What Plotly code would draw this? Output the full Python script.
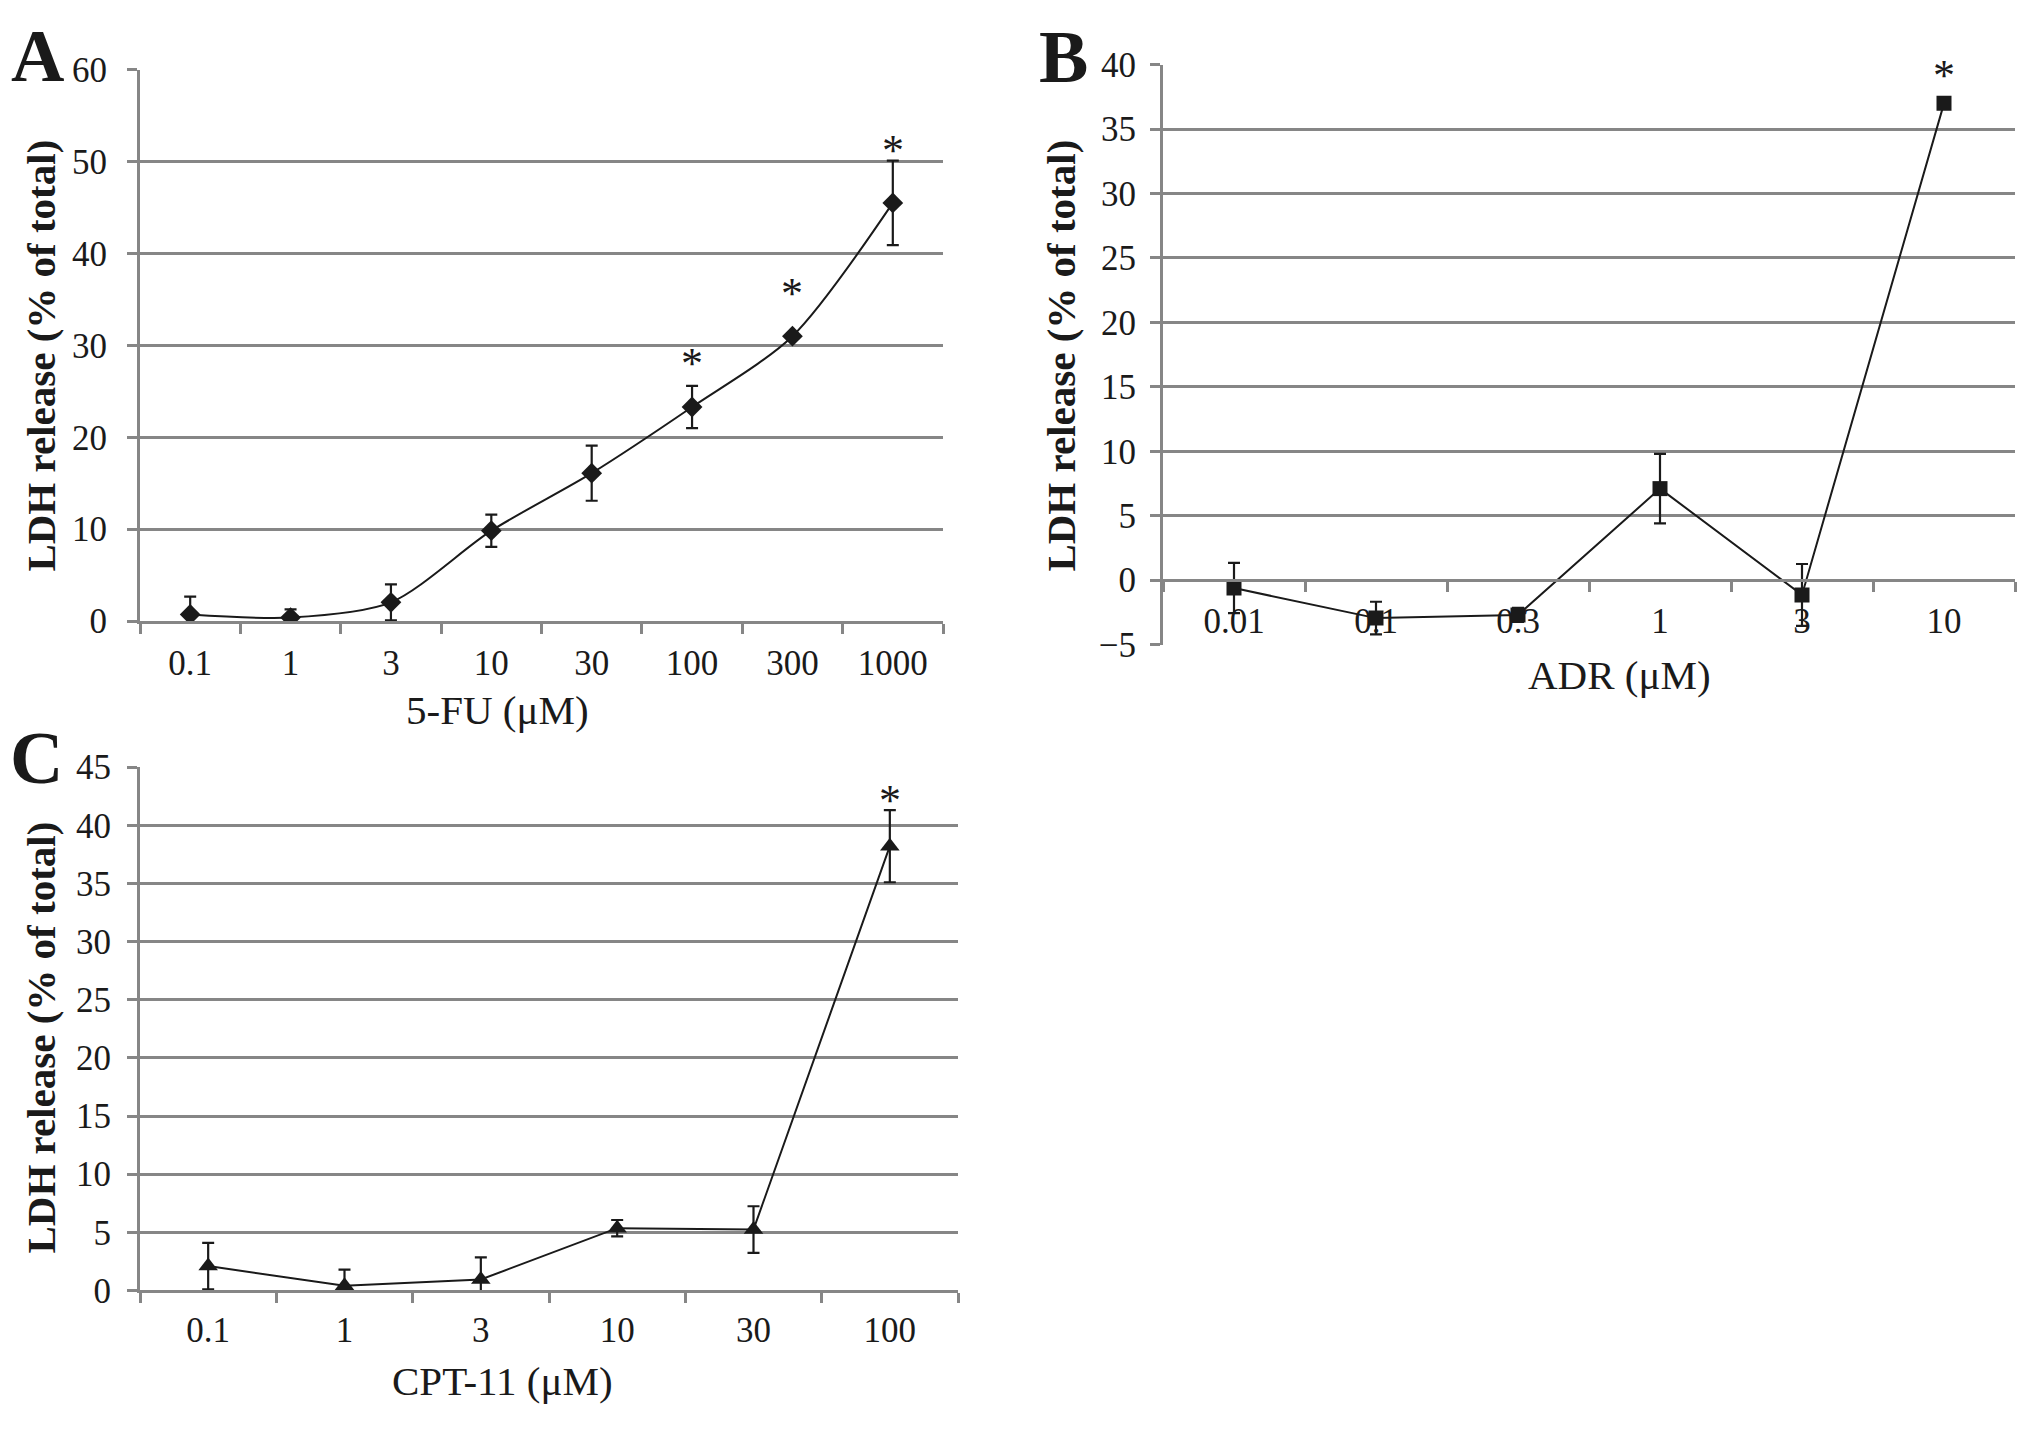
import plotly.graph_objects as go

W, H = 2031, 1435

# ---------------- data ----------------
fu_conc = ["0.1", "1", "3", "10", "30", "100", "300", "1000"]
fu_mean = [0.73, 0.39, 2.05, 9.84, 16.1, 23.3, 31.0, 45.5]
fu_err = [1.95, 0.9, 1.95, 1.75, 3.0, 2.3, 0.3, 4.6]
fu_sig = ["100", "300", "1000"]

adr_conc = ["0.01", "0.1", "0.3", "1", "3", "10"]
adr_mean = [-0.62, -2.95, -2.7, 7.1, -1.15, 37.0]
adr_err = [1.95, 1.27, 0.55, 2.7, 2.4, 0.3]
adr_sig = ["10"]

cpt_conc = ["0.1", "1", "3", "10", "30", "100"]
cpt_mean = [2.1, 0.4, 0.94, 5.36, 5.24, 38.2]
cpt_err = [2.0, 1.4, 1.9, 0.7, 2.0, 3.1]
cpt_sig = ["100"]

# ---------------- style ----------------
FONT = "Liberation Serif"
GRID = "#868686"
INK = "#1a1a1a"


def px(x):
    return x / W


def py(y):
    return 1 - y / H


fig = go.Figure()


def add_series(xs, ys, errs, xa, ya, symbol, msize, shape):
    fig.add_trace(go.Scatter(
        x=xs, y=ys, xaxis=xa, yaxis=ya, mode="lines+markers",
        line=dict(color=INK, width=2, shape=shape, smoothing=0.8),
        marker=dict(symbol=symbol, size=msize, color=INK),
        error_y=dict(type="data", array=errs, visible=True, color=INK,
                     thickness=2.2, width=6),
        showlegend=False, hoverinfo="x+y",
    ))


add_series(fu_conc, fu_mean, fu_err, "x", "y", "diamond", 16, "spline")
add_series(adr_conc, adr_mean, adr_err, "x2", "y2", "square", 15, "linear")
add_series(cpt_conc, cpt_mean, cpt_err, "x3", "y3", "triangle-up", 17, "linear")

tickfont = dict(family=FONT, size=35, color=INK)


def xaxis_cfg(dom, n, standoff, **kw):
    d = dict(domain=dom, type="category", tickson="boundaries",
             ticks="outside", ticklen=10, tickwidth=2.5, tickcolor=GRID,
             showline=True, linecolor=GRID, linewidth=3, showgrid=False,
             zeroline=False, range=[-0.5, n - 0.5], tickfont=tickfont,
             ticklabelstandoff=standoff, fixedrange=True)
    d.update(kw)
    return d


def yaxis_cfg(dom, rng, dtick, anchor, standoff):
    return dict(domain=dom, range=rng, dtick=dtick, tick0=0, anchor=anchor,
                showgrid=True, gridcolor=GRID, gridwidth=3,
                showline=True, linecolor=GRID, linewidth=3,
                ticks="outside", ticklen=10, tickwidth=2.5, tickcolor=GRID,
                zeroline=False, tickfont=tickfont,
                ticklabelstandoff=standoff, fixedrange=True)


# panel plot-area edges in pixels (left, right, bottom, top)
A_box = (140, 943, 619, 52)
B_box = (1163, 2015, 643, 47)
C_box = (140, 958, 1307, 769)
A_rng, B_rng, C_rng = [0, 60], [-5, 40], [0, 45]


def dom(box):
    l, r, b, t = box
    return [px(l), px(r)], [py(b), py(t)]


A_x, A_y = dom(A_box)
B_x, B_y = dom(B_box)
C_x, C_y = dom(C_box)
B_zero = B_y[0] + (0 - B_rng[0]) / (B_rng[1] - B_rng[0]) * (B_y[1] - B_y[0])

fig.update_layout(
    width=W, height=H, margin=dict(l=0, r=0, t=0, b=0),
    paper_bgcolor="white", plot_bgcolor="white",
    xaxis=xaxis_cfg(A_x, len(fu_conc), 9, anchor="y"),
    yaxis=yaxis_cfg(A_y, A_rng, 10, "x", 13),
    xaxis2=xaxis_cfg(B_x, len(adr_conc), 9, anchor="free", position=B_zero),
    yaxis2=yaxis_cfg(B_y, B_rng, 5, "x2", 7),
    xaxis3=xaxis_cfg(C_x, len(cpt_conc), 7, anchor="y3"),
    yaxis3=yaxis_cfg(C_y, C_rng, 5, "x3", 9),
)

ann = []


def text(x, y, s, size, bold=False, angle=0):
    ann.append(dict(
        x=px(x), y=py(y), xref="paper", yref="paper", showarrow=False,
        text=f"<b>{s}</b>" if bold else s, textangle=angle,
        xanchor="center", yanchor="middle",
        font=dict(family=FONT, size=size, color=INK)))


# panel letters
text(37, 38, "A", 74, bold=True)
text(1063, 39, "B", 74, bold=True)
text(36, 760, "C", 74, bold=True)

# axis titles
text(497, 710, "5-FU (μM)", 41)
text(1619, 674, "ADR (μM)", 41)
text(502, 1400, "CPT-11 (μM)", 41)
ytitle = "LDH release (% of total)"
text(41, 346, ytitle, 41, bold=True, angle=-90)
text(1061, 346, ytitle, 41, bold=True, angle=-90)
text(41, 1047, ytitle, 41, bold=True, angle=-90)


# significance asterisks: above the marker, and clear of the error bar
def stars(conc, mean, err, sig, box, rng, xr, yr, marker_gap, err_gap=16):
    ppu = (box[2] - box[3]) / (rng[1] - rng[0])  # pixels per data unit
    for i, (c, m, e) in enumerate(zip(conc, mean, err)):
        if c in sig:
            shift = max(marker_gap, e * ppu + err_gap) - 7
            ann.append(dict(x=i, y=m, xref=xr, yref=yr, text="*",
                            showarrow=False, yshift=shift,
                            xanchor="center", yanchor="middle",
                            font=dict(family=FONT, size=44, color=INK)))


stars(fu_conc, fu_mean, fu_err, fu_sig, A_box, A_rng, "x", "y", 50)
stars(adr_conc, adr_mean, adr_err, adr_sig, B_box, B_rng, "x2", "y2", 35)
stars(cpt_conc, cpt_mean, cpt_err, cpt_sig, C_box, C_rng, "x3", "y3", 50)

fig.update_layout(annotations=ann)
fig.write_html("out.html", config={"displayModeBar": False},
               post_script="document.body.style.margin='0';")
